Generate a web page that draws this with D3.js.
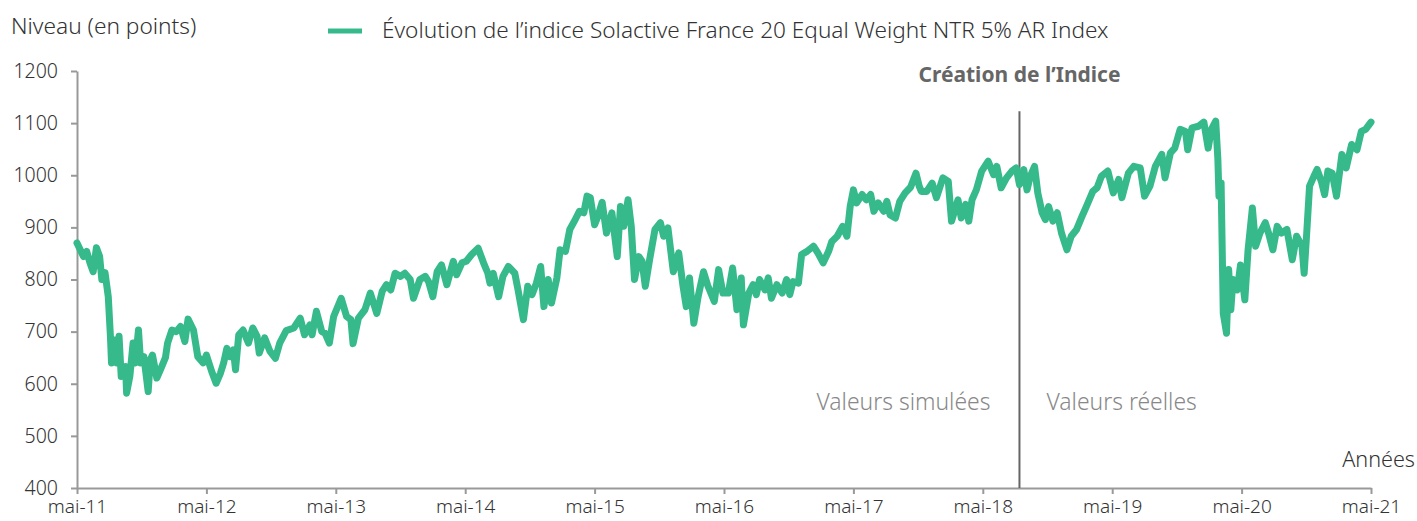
<!DOCTYPE html>
<html>
<head>
<meta charset="utf-8">
<script src="https://cdn.jsdelivr.net/npm/d3@7"></script>
<style>
  body { margin: 0; background: #fff; }
  svg text { font-family: "Noto Sans", sans-serif; font-weight: 300; }
</style>
</head>
<body>
<div id="chart"></div>
<script>
// months since mai-11
var months = [0,0.3,0.6,0.9,1.2,1.5,1.8,2.1,2.3,2.6,2.9,3.1,3.2,3.5,3.7,3.9,4.1,4.5,4.6,4.9,
  5.2,5.4,5.7,5.9,6.2,6.6,6.8,7.0,7.4,7.8,8.2,8.4,8.8,9.2,9.6,10.0,10.3,10.8,11.2,11.7,
  12.0,12.5,12.9,13.3,13.6,13.9,14.2,14.5,14.7,15.0,15.4,15.9,16.3,16.7,16.9,17.4,17.9,18.4,18.8,19.4,
  20.1,20.7,21.1,21.6,21.8,22.2,22.7,23.0,23.4,23.8,24.5,25.0,25.4,25.6,26.1,26.7,27.2,27.8,28.3,28.7,
  29.1,29.5,30.0,30.4,30.9,31.2,31.8,32.3,32.6,33.0,33.4,33.8,34.3,34.9,35.2,35.7,36.1,36.6,37.2,37.7,
  38.1,38.3,38.6,39.1,39.5,40.0,40.6,40.9,41.4,41.8,42.2,42.6,43.0,43.3,43.7,44.0,44.5,44.8,45.3,45.7,
  46.2,46.6,47.0,47.3,47.6,48.0,48.3,48.7,49.1,49.6,50.1,50.4,50.7,51.1,51.4,51.7,52.1,52.4,52.7,53.1,
  53.6,54.1,54.4,54.8,55.3,55.8,56.2,56.5,56.8,57.2,57.6,58.1,58.5,59.1,59.5,59.9,60.4,60.8,61.2,61.6,
  61.8,62.3,62.7,63.0,63.3,63.8,64.1,64.4,64.9,65.4,65.8,66.1,66.4,66.9,67.2,67.7,68.3,68.7,69.2,69.7,
  70.0,70.5,71.0,71.4,71.7,72.0,72.3,72.8,73.2,73.6,73.9,74.3,74.8,75.1,75.4,75.9,76.3,76.8,77.3,77.8,
  78.1,78.3,78.8,79.3,79.7,80.3,80.8,81.1,81.7,82.0,82.4,82.7,83.0,83.4,83.9,84.5,85.0,85.3,85.7,86.2,
  86.7,87.1,87.4,87.8,88.1,88.4,88.8,89.1,89.5,89.8,90.1,90.5,90.9,91.3,91.8,92.2,92.7,93.2,93.6,94.2,
  94.6,95.0,95.6,96.1,96.6,96.9,97.5,98.0,98.6,99.0,99.5,100.0,100.6,100.9,101.4,101.8,102.3,102.8,103.0,103.4,
  104.0,104.5,104.9,105.2,105.6,105.8,105.9,106.1,106.3,106.6,106.8,107.0,107.2,107.6,107.9,108.3,108.6,109.0,109.3,109.7,
  110.2,110.5,110.9,111.3,111.7,112.2,112.7,113.1,113.6,113.8,114.0,114.3,114.7,115.0,115.4,115.7,116.0,116.4,116.8,117.3,
  117.7,118.2,118.7,119.1,119.5,120.0];

var values = [870,857,844,854,832,815,861,844,800,813,767,691,640,684,640,691,614,633,582,614,
  678,640,703,640,652,585,646,655,611,630,650,678,703,700,710,681,724,703,652,640,
  655,623,601,620,640,668,652,665,627,694,703,678,707,691,659,688,662,649,678,702,
  707,726,694,713,694,739,700,697,678,729,764,729,723,677,726,742,774,735,777,790,
  780,812,806,812,800,764,800,806,796,767,815,828,790,835,809,832,835,848,860,832,
  812,793,812,767,806,825,812,780,723,787,771,793,825,748,800,755,803,857,854,896,
  915,931,928,960,957,905,921,948,889,928,844,940,902,953,902,800,844,835,787,838,
  896,909,883,899,815,851,787,748,803,716,767,815,788,758,819,774,774,822,742,803,
  713,774,790,771,800,780,803,764,790,774,800,771,796,793,848,854,864,851,832,854,
  873,883,902,883,940,972,947,963,953,963,931,947,931,950,924,918,950,966,977,1004,
  979,969,969,985,957,995,988,912,953,918,944,912,953,972,1008,1027,1001,1017,976,995,
  1008,1014,982,1011,972,998,1017,966,928,915,940,912,928,889,857,883,896,921,940,969,
  976,998,1008,966,992,957,1004,1017,1014,960,979,1017,1040,995,1043,1052,1088,1084,1049,1091,
  1094,1102,1052,1088,1104,1030,960,985,735,697,819,742,800,780,828,761,857,937,864,889,
  909,889,857,902,889,896,838,883,864,812,876,979,998,1011,988,963,1008,1004,960,1040,
  1014,1059,1049,1084,1088,1102];

var yTicks = [400,500,600,700,800,900,1000,1100,1200];
var xTickMonths = [0,12,24,36,48,60,72,84,96,108,120];
var xTickLabels = ["mai-11","mai-12","mai-13","mai-14","mai-15","mai-16","mai-17","mai-18","mai-19","mai-20","mai-21"];
var creationMonth = 87.4;

var W = 1417, H = 521;
var margin = {top: 71, right: 46, bottom: 33, left: 77};
var width = W - margin.left - margin.right,
    height = H - margin.top - margin.bottom;

var svg = d3.select("#chart").append("svg")
    .attr("width", W).attr("height", H);

var g = svg.append("g")
    .attr("transform", "translate(" + margin.left + "," + margin.top + ")");

var x = d3.scaleLinear().domain([0, 120]).range([0, width]);
var y = d3.scaleLinear().domain([400, 1200]).range([height, 0]);

// y axis
var yAxis = g.append("g")
    .call(d3.axisLeft(y).tickValues(yTicks).tickFormat(d3.format("d"))
        .tickSize(6).tickSizeOuter(0).tickPadding(13));
yAxis.selectAll("text").style("font-size", "19.5px").attr("fill", "#333");

// x axis
var xAxis = g.append("g")
    .attr("transform", "translate(0," + height + ")")
    .call(d3.axisBottom(x).tickValues(xTickMonths).tickSize(6).tickSizeOuter(0).tickPadding(6)
        .tickFormat(function(d, i){ return xTickLabels[i]; }));
xAxis.selectAll("text").style("font-size", "19px").attr("fill", "#333");

g.selectAll(".domain, .tick line").attr("stroke", "#999").attr("stroke-width", 2);

// creation line
g.append("line")
    .attr("x1", x(creationMonth)).attr("x2", x(creationMonth))
    .attr("y1", y(1123)).attr("y2", height)
    .attr("stroke", "#666").attr("stroke-width", 2);

// series
var pts = months.map(function(m, i){ return [m, values[i]]; });
g.append("path")
    .datum(pts)
    .attr("fill", "none")
    .attr("stroke", "#36ba8b")
    .attr("stroke-width", 7)
    .attr("stroke-linejoin", "round")
    .attr("stroke-linecap", "round")
    .attr("d", d3.line().x(function(d){ return x(d[0]); }).y(function(d){ return y(d[1]); }));

// labels
svg.append("text").attr("x", 11).attr("y", 34)
    .style("font-size", "22.7px").attr("fill", "#333")
    .text("Niveau (en points)");

svg.append("line").attr("x1", 328).attr("x2", 362).attr("y1", 31).attr("y2", 31)
    .attr("stroke", "#36ba8b").attr("stroke-width", 5);
svg.append("text").attr("x", 382).attr("y", 38)
    .style("font-size", "22.6px").attr("fill", "#333")
    .text("Évolution de l’indice Solactive France 20 Equal Weight NTR 5% AR Index");

g.append("text").attr("x", x(creationMonth)).attr("y", 11)
    .attr("text-anchor", "middle")
    .style("font-size", "21px").style("font-weight", "bold").attr("fill", "#666")
    .text("Création de l’Indice");

g.append("text").attr("x", x(creationMonth) - 29).attr("y", 339)
    .attr("text-anchor", "end")
    .style("font-size", "22.9px").attr("fill", "#888")
    .text("Valeurs simulées");

g.append("text").attr("x", x(creationMonth) + 27).attr("y", 339)
    .style("font-size", "22.9px").attr("fill", "#888")
    .text("Valeurs réelles");

svg.append("text").attr("x", 1415).attr("y", 467)
    .attr("text-anchor", "end")
    .style("font-size", "21.6px").attr("fill", "#333")
    .text("Années");
</script>
</body>
</html>
